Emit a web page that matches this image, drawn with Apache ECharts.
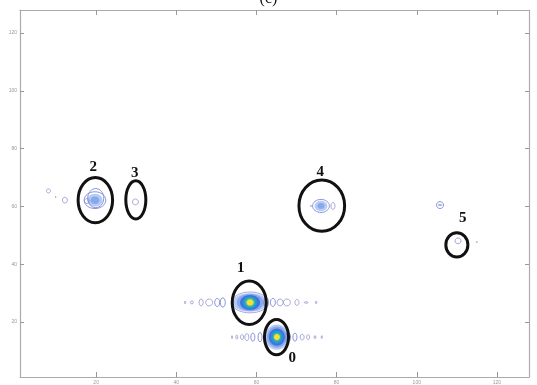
<!DOCTYPE html>
<html>
<head>
<meta charset="utf-8">
<script src="https://cdn.jsdelivr.net/npm/echarts@6/dist/echarts.min.js"></script>
<style>html,body{margin:0;padding:0;background:#fff}#c{width:537px;height:385px}</style>
</head>
<body>
<div id="c"></div>
<script>
// ---- data (data units) ----
const xTickValues = [20, 40, 60, 80, 100, 120];
const yTickValues = [20, 40, 60, 80, 100, 120];
const titleText = '(c)';

// filled contour cores: [x, y, rx, ry, level]  (level 0 = outer, 5 = peak)
const coreFills = [
  [58.4, 26.8, 4.4, 3.2, 0], [58.4, 26.8, 3.3, 3.0, 1], [58.4, 26.8, 2.5, 2.6, 2],
  [58.4, 26.8, 1.8, 2.1, 3], [58.4, 26.8, 1.3, 1.6, 4], [58.4, 26.8, 0.9, 1.1, 5],
  [65.1, 14.8, 3.0, 4.4, 0], [65.1, 14.8, 2.5, 3.7, 1], [65.1, 14.8, 2.0, 3.0, 2],
  [65.1, 14.8, 1.5, 2.3, 3], [65.1, 14.8, 1.05, 1.6, 4], [65.1, 14.8, 0.75, 1.05, 5],
  [19.7, 62.2, 1.9, 2.2, 0], [19.7, 62.2, 1.1, 1.3, 1],
  [76.1, 60.2, 1.6, 1.8, 0], [76.1, 60.2, 0.9, 1.0, 1]
];

// contour lines: [x, y, rx, ry, level]
const contourLines = [
  [42.2, 26.8, 0.15, 0.5, 0], [43.9, 26.8, 0.37, 0.5, 0], [46.2, 26.8, 0.5, 1.2, 0],
  [48.2, 26.8, 0.87, 1.2, 0], [50.2, 26.8, 0.62, 1.4, 1], [51.6, 26.8, 0.62, 1.6, 1],
  [62.4, 26.8, 0.62, 1.6, 1], [64.1, 26.8, 0.62, 1.4, 1], [65.9, 26.8, 0.75, 1.2, 0],
  [67.6, 26.8, 0.87, 1.2, 0], [70.1, 26.8, 0.5, 1.0, 0], [72.4, 26.8, 0.5, 0.25, 0],
  [74.9, 26.8, 0.15, 0.5, 0], [58.4, 26.8, 4.6, 3.6, 0],
  [53.9, 14.8, 0.12, 0.5, 0], [55.1, 14.8, 0.25, 0.7, 0], [56.4, 14.8, 0.37, 0.87, 0],
  [57.6, 14.8, 0.5, 1.2, 0], [59.1, 14.8, 0.5, 1.4, 1], [60.9, 14.8, 0.5, 1.6, 1],
  [67.9, 14.8, 0.62, 1.6, 1], [69.6, 14.8, 0.5, 1.4, 1], [71.4, 14.8, 0.5, 1.0, 0],
  [72.9, 14.8, 0.37, 0.87, 0], [74.6, 14.8, 0.25, 0.5, 0], [76.3, 14.8, 0.12, 0.5, 0],
  [8.1, 65.4, 0.5, 0.7, 0], [9.9, 63.3, 0.12, 0.2, 0], [12.2, 62.2, 0.62, 1.0, 0],
  [17.7, 61.9, 0.62, 0.87, 0], [19.7, 62.2, 2.7, 2.9, 1], [19.9, 62.9, 2.0, 3.3, 1],
  [29.8, 61.6, 0.75, 1.0, 0],
  [73.6, 60.2, 0.15, 0.2, 0], [76.1, 60.2, 2.1, 2.25, 1], [79.1, 60.2, 0.5, 1.2, 0],
  [105.8, 60.5, 0.87, 1.2, 1], [105.8, 60.5, 0.4, 0.1, 1],
  [110.3, 48.1, 0.75, 1.0, 0], [115.0, 47.7, 0.12, 0.2, 0]
];

// black marking ellipses: [x, y, rx, ry]
const markEllipses = [
  [58.2, 26.7, 4.25, 7.5], [65.0, 14.8, 3.0, 6.1], [19.8, 62.2, 4.3, 7.8],
  [29.9, 62.3, 2.5, 6.6], [76.3, 60.3, 5.7, 8.9], [110.0, 46.7, 2.75, 4.2]
];

// labels: [x, y, text]
const markLabels = [
  [68.9, 7.6, '0'], [56.1, 38.6, '1'], [19.3, 73.8, '2'],
  [29.6, 71.7, '3'], [75.9, 72.0, '4'], [111.5, 55.9, '5']
];

const fillPalette = ['#b7caf3', '#86a9ee', '#3f74dc', '#2199d6', '#3bb6a0', '#f1e138'];
const linePalette = ['#9d9dd4', '#7888d6'];

function ellipseItem(api, fill, stroke, lw) {
  const x = api.value(0), y = api.value(1), rx = api.value(2), ry = api.value(3);
  const c = api.coord([x, y]);
  const p = api.coord([x + rx, y + ry]);
  return {
    type: 'ellipse',
    shape: { cx: c[0], cy: c[1], rx: Math.abs(p[0] - c[0]), ry: Math.abs(c[1] - p[1]) },
    style: { fill: fill, stroke: stroke, lineWidth: lw }
  };
}

const chart = echarts.init(document.getElementById('c'), null, { renderer: 'canvas' });
const axisCommon = {
  type: 'value', min: 1, max: 128, splitLine: { show: false },
  axisLine: { show: true, lineStyle: { color: '#ababab', width: 1.2 } }
};
chart.setOption({
  animation: false,
  backgroundColor: '#fff',
  title: {
    text: titleText, left: 'center', top: -14,
    textStyle: { fontFamily: 'Liberation Serif', fontSize: 16, fontWeight: 'normal', color: '#111' }
  },
  grid: { left: 20, right: 8, top: 10, bottom: 8 },
  xAxis: [
    Object.assign({}, axisCommon, {
      position: 'bottom',
      axisTick: { show: true, inside: true, length: 5, customValues: xTickValues, lineStyle: { color: '#999' } },
      axisLabel: { show: true, customValues: xTickValues, fontSize: 5, color: '#999', margin: 3, fontFamily: 'Liberation Sans' }
    }),
    Object.assign({}, axisCommon, {
      position: 'top',
      axisTick: { show: true, inside: true, length: 5, customValues: xTickValues, lineStyle: { color: '#999' } },
      axisLabel: { show: false }
    })
  ],
  yAxis: [
    Object.assign({}, axisCommon, {
      position: 'left',
      axisTick: { show: true, inside: true, length: 4, customValues: yTickValues, lineStyle: { color: '#999' } },
      axisLabel: { show: true, customValues: yTickValues, fontSize: 5, color: '#999', margin: 3, fontFamily: 'Liberation Sans' }
    }),
    Object.assign({}, axisCommon, {
      position: 'right',
      axisTick: { show: true, inside: true, length: 4, customValues: yTickValues, lineStyle: { color: '#999' } },
      axisLabel: { show: false }
    })
  ],
  series: [
    {
      type: 'custom', name: 'cores', data: coreFills, xAxisIndex: 0, yAxisIndex: 0,
      renderItem: function (params, api) {
        return ellipseItem(api, fillPalette[api.value(4)], null, 0);
      }
    },
    {
      type: 'custom', name: 'contours', data: contourLines, xAxisIndex: 0, yAxisIndex: 0,
      renderItem: function (params, api) {
        return ellipseItem(api, null, linePalette[api.value(4)], 0.9);
      }
    },
    {
      type: 'custom', name: 'marks', data: markEllipses, xAxisIndex: 0, yAxisIndex: 0,
      renderItem: function (params, api) {
        return ellipseItem(api, null, '#111', 3);
      }
    },
    {
      type: 'custom', name: 'labels', data: markLabels, xAxisIndex: 0, yAxisIndex: 0,
      dimensions: ['x', 'y', { name: 'text', type: 'ordinal' }],
      renderItem: function (params, api) {
        const c = api.coord([api.value(0), api.value(1)]);
        return {
          type: 'text',
          x: c[0], y: c[1],
          style: {
            text: markLabels[params.dataIndex][2],
            fill: '#111', align: 'center', verticalAlign: 'middle',
            font: 'bold 15px "Liberation Serif"'
          }
        };
      }
    }
  ]
});
</script>
</body>
</html>
